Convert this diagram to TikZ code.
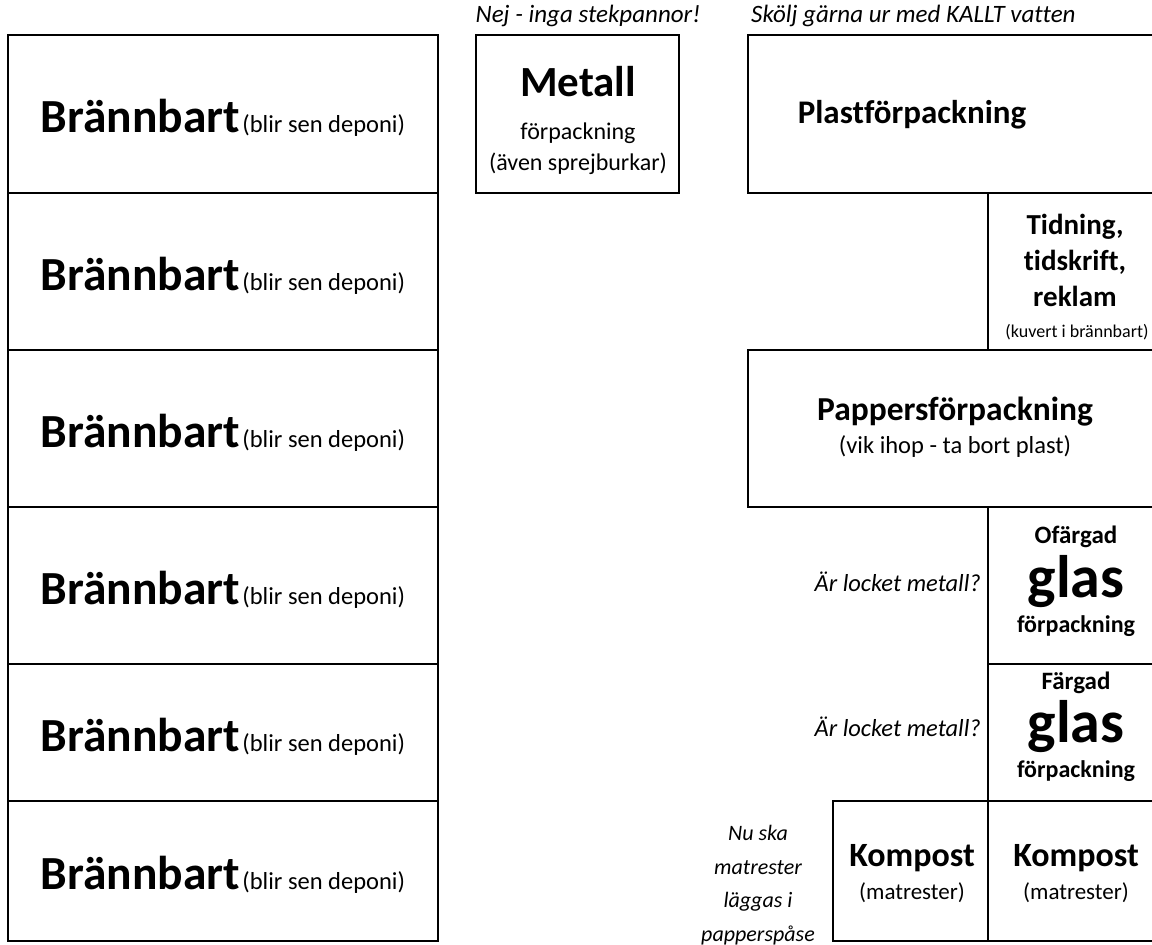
\documentclass[tikz,border=0pt]{standalone}
\usepackage{fontspec}
\setmainfont{Carlito}[Ligatures=NoCommon]
\begin{document}
\begin{tikzpicture}[x=1pt,y=-1pt,
  box/.style={draw, line width=1.5pt, inner sep=0pt},
  txt/.style={inner sep=0pt, align=center},
  note/.style={inner sep=0pt, font=\fontsize{25}{30}\selectfont\itshape}]
\useasboundingbox (0,0) rectangle (1152,945);
% left column
\foreach \i/\y/\h in {1/114/158, 2/271.5/157, 3/428.5/157, 4/585.5/157, 5/732.5/137, 6/871/140}
  \node[box, minimum width=430pt, minimum height=\h pt, text depth=0pt] (brb\i) at (223,\y)
    {\raisebox{-4pt}{{\fontsize{47.5}{57}\selectfont\bfseries Brännbart} {\fontsize{24.5}{29}\selectfont (blir sen deponi)}}};
% metall
\node[box, minimum width=203pt, minimum height=158pt] (met) at (577.5,114){};
\node[txt, font=\fontsize{43}{52}\selectfont\bfseries] (metT) at (578,82){Metall};
\node[txt, font=\fontsize{24}{29}\selectfont] (metF) at (578,133){förpackning};
\node[txt, font=\fontsize{24}{29}\selectfont] (metA) at (578,164){(även sprejburkar)};
\node[note] (metN) at (588,16){Nej - inga stekpannor!};
% right column
\node[box, minimum width=408pt, minimum height=158pt] (plast) at (952,114){};
\node[txt, font=\fontsize{33}{40}\selectfont\bfseries] (plT) at (912,115){Plastförpackning};
\node[note, anchor=west] (plN) at (751,16){Skölj gärna ur med KALLT vatten};
\node[box, minimum width=168pt, minimum height=157pt] (tidn) at (1072,271.5){};
\node[txt, font=\fontsize{29}{35}\selectfont\bfseries] (tdA) at (1075,227){Tidning,};
\node[txt, font=\fontsize{29}{35}\selectfont\bfseries] (tdB) at (1075,262){tidskrift,};
\node[txt, font=\fontsize{29}{35}\selectfont\bfseries] (tdC) at (1075,296){reklam};
\node[txt, font=\fontsize{18}{22}\selectfont] (tdD) at (1077,332){(kuvert i brännbart)};
\node[box, minimum width=408pt, minimum height=157pt] (papp) at (952,428.5){};
\node[txt, font=\fontsize{33.5}{40}\selectfont\bfseries] (ppT) at (955,412){Pappersförpackning};
\node[txt, font=\fontsize{24.5}{29}\selectfont] (ppF) at (955,447){(vik ihop - ta bort plast)};
\node[box, minimum width=168pt, minimum height=157pt] (ofgl) at (1072,585.5){};
\node[txt, font=\fontsize{25}{30}\selectfont\bfseries] (ofA) at (1076,537){Ofärgad};
\node[txt, font=\fontsize{60}{72}\selectfont\bfseries] (ofB) at (1076,582){glas};
\node[txt, font=\fontsize{24}{29}\selectfont\bfseries] (ofC) at (1076,626){förpackning};
\node[note, anchor=east, font=\fontsize{24.5}{29}\selectfont\itshape] (ofN) at (981,582){Är locket metall?};
\node[box, minimum width=168pt, minimum height=137pt] (fgl) at (1072,732.5){};
\node[txt, font=\fontsize{25}{30}\selectfont\bfseries] (fgA) at (1076,683){Färgad};
\node[txt, font=\fontsize{60}{72}\selectfont\bfseries] (fgB) at (1076,727){glas};
\node[txt, font=\fontsize{24}{29}\selectfont\bfseries] (fgC) at (1076,771){förpackning};
\node[note, anchor=east, font=\fontsize{24.5}{29}\selectfont\itshape] (fgN) at (981,727){Är locket metall?};
% kompost
\node[box, minimum width=155pt, minimum height=140pt] (komp1) at (910.5,871){};
\node[txt, font=\fontsize{34}{41}\selectfont\bfseries] (k1T) at (912,858){Kompost};
\node[txt, font=\fontsize{23}{28}\selectfont] (k1F) at (912,893){(matrester)};
\node[box, minimum width=168pt, minimum height=140pt] (komp2) at (1072,871){};
\node[txt, font=\fontsize{34}{41}\selectfont\bfseries] (k2T) at (1076,858){Kompost};
\node[txt, font=\fontsize{23}{28}\selectfont] (k2F) at (1076,893){(matrester)};
\node[note, align=center, font=\fontsize{22}{33.5}\selectfont\itshape] (kN) at (758,885){Nu ska\\matrester\\läggas i\\papperspåse};
\end{tikzpicture}
\end{document}
